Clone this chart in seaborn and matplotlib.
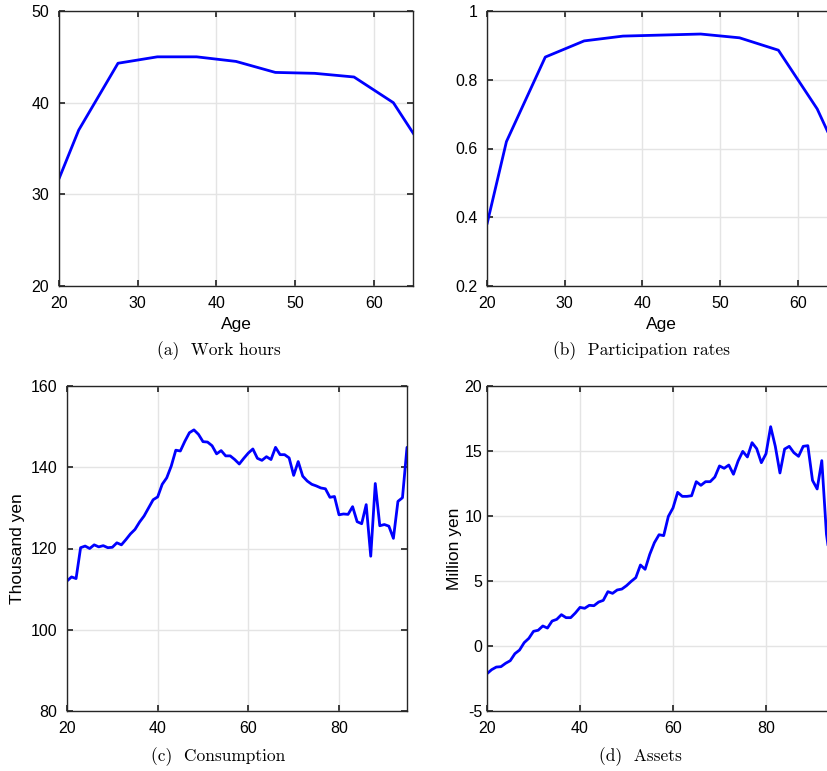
import numpy as np
import pandas as pd
import matplotlib
matplotlib.use("Agg")
import matplotlib.pyplot as plt
import seaborn as sns

# ---------------- data ----------------
age_5yr = [20, 22.5, 27.5, 32.5, 37.5, 42.5, 47.5, 52.5, 57.5, 62.5, 67.5]
work_hours = [31.7, 37.0, 44.3, 45.0, 45.0, 44.5, 43.3, 43.2, 42.8, 40.0, 33.4]
participation = [0.38, 0.62, 0.866, 0.913, 0.927, 0.930, 0.933, 0.922, 0.886, 0.715, 0.47]

age_c = list(range(20, 96))
consumption = [112.0, 113.0, 112.6, 120.2, 120.6, 120.0, 120.9, 120.4, 120.7, 120.2,
               120.3, 121.4, 120.9, 122.2, 123.6, 124.7, 126.5, 128.0, 130.0, 132.0,
               132.7, 135.8, 137.4, 140.3, 144.2, 144.0, 146.4, 148.5, 149.2, 148.1,
               146.3, 146.2, 145.3, 143.3, 144.1, 142.8, 142.8, 141.9, 140.8, 142.2,
               143.5, 144.5, 142.2, 141.7, 142.6, 141.9, 144.9, 143.1, 143.1, 142.3,
               138.0, 141.4, 137.8, 136.6, 135.8, 135.4, 134.9, 134.7, 132.6, 132.8,
               128.3, 128.5, 128.4, 130.3, 126.6, 126.1, 130.8, 118.1, 136.0, 125.6,
               125.9, 125.5, 122.5, 131.6, 132.5, 144.9]

age_a = list(range(20, 96))
assets = [-2.13, -1.82, -1.62, -1.59, -1.33, -1.13, -0.59, -0.31, 0.26, 0.59,
          1.13, 1.21, 1.54, 1.38, 1.92, 2.05, 2.41, 2.18, 2.18, 2.54,
          2.97, 2.90, 3.13, 3.10, 3.38, 3.51, 4.18, 4.05, 4.31, 4.38,
          4.64, 4.97, 5.26, 6.23, 5.90, 7.05, 7.95, 8.56, 8.49, 9.97,
          10.62, 11.82, 11.51, 11.51, 11.56, 12.64, 12.36, 12.64, 12.64, 13.00,
          13.85, 13.67, 13.92, 13.21, 14.23, 14.97, 14.54, 15.64, 15.18, 14.10,
          14.79, 16.87, 15.36, 13.31, 15.15, 15.36, 14.87, 14.59, 15.36, 15.41,
          12.74, 12.08, 14.26, 8.6, 6.0, 4.0]

# ---------------- style ----------------
sns.set_theme(style="ticks")
plt.rcParams["font.family"] = ["Liberation Sans", "DejaVu Sans"]
plt.rcParams["axes.unicode_minus"] = False

W, H = 828, 771
fig = plt.figure(figsize=(W / 100, H / 100), dpi=100)

def ax_at(x0, y0, x1, y1):
    return fig.add_axes([x0 / W, 1 - y1 / H, (x1 - x0) / W, (y1 - y0) / H])

def style(ax, xlim, ylim, xticks, yticks, ypad=7):
    ax.set_xlim(*xlim)
    ax.set_ylim(*ylim)
    ax.set_xticks(xticks)
    ax.set_yticks(yticks)
    ax.grid(True, color="#e4e4e4", linewidth=1.0)
    ax.set_axisbelow(True)
    for s in ax.spines.values():
        s.set_color("#262626")
        s.set_linewidth(1.0)
    ax.tick_params(direction="in", top=True, right=True, length=4,
                   labelsize=11.5, color="#262626", labelcolor="black")
    ax.tick_params(axis="x", pad=7.5)
    ax.tick_params(axis="y", pad=ypad)

blue = "#0000FF"
lab = dict(fontsize=12.5, color="black")

# (a)
ax1 = ax_at(59, 11, 413, 286)
sns.lineplot(x=age_5yr, y=work_hours, ax=ax1, color=blue, linewidth=2)
style(ax1, (20, 65), (20, 50), [20, 30, 40, 50, 60], [20, 30, 40, 50])
ax1.set_xlabel("Age", **lab)
ax1.xaxis.set_label_coords(0.5, (286 - 317) / 275)

# (b)
ax2 = ax_at(487, 11, 487 + 45 * 7.77, 286)
sns.lineplot(x=age_5yr, y=participation, ax=ax2, color=blue, linewidth=2)
style(ax2, (20, 65), (0.2, 1.0), [20, 30, 40, 50, 60], [0.2, 0.4, 0.6, 0.8, 1.0])
ax2.set_yticklabels(["0.2", "0.4", "0.6", "0.8", "1"])
ax2.set_xlabel("Age", **lab)
ax2.xaxis.set_label_coords(0.5, (286 - 317) / 275)

# (c)
ax3 = ax_at(67, 386, 407, 711)
sns.lineplot(x=age_c, y=consumption, ax=ax3, color=blue, linewidth=2)
style(ax3, (20, 95), (80, 160), [20, 40, 60, 80], [80, 100, 120, 140, 160])
ax3.set_ylabel("Thousand yen", **lab)
ax3.yaxis.set_label_coords((25 - 67) / 340, 0.5)

# (d)
ax4 = ax_at(487, 386, 487 + 75 * 4.65, 711)
sns.lineplot(x=age_a, y=assets, ax=ax4, color=blue, linewidth=2)
style(ax4, (20, 95), (-5, 20), [20, 40, 60, 80], [-5, 0, 5, 10, 15, 20], ypad=3.5)
ax4.set_ylabel("Million yen", **lab)
ax4.yaxis.set_label_coords((462 - 487) / 348.75, 0.5)

cap = dict(fontsize=12.5, family=["cmr10", "DejaVu Serif"], ha="center", va="center",
           color="black")
fig.text(219 / W, 1 - 351 / H, "(a)  Work hours", **cap)
fig.text(642 / W, 1 - 351 / H, "(b)  Participation rates", **cap)
fig.text(218 / W, 1 - 757 / H, "(c)  Consumption", **cap)
fig.text(640 / W, 1 - 757 / H, "(d)  Assets", **cap)

fig.savefig("out.png", dpi=100)
